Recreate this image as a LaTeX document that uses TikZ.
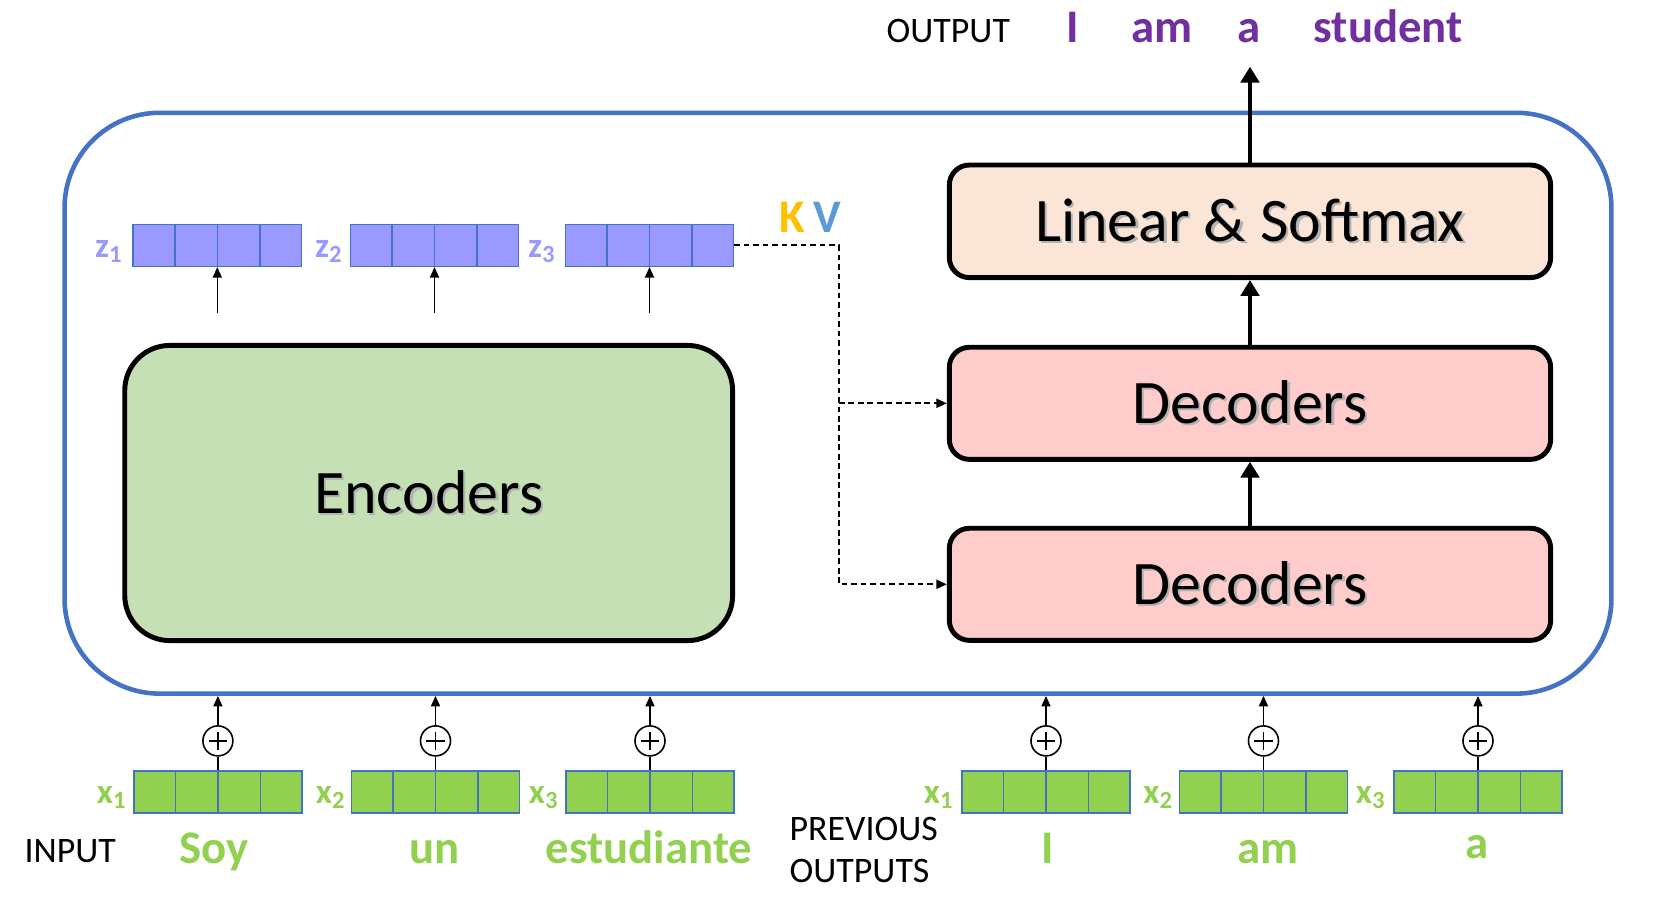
\documentclass[tikz,border=0pt]{standalone}
\usepackage{fontspec}
\setmainfont{Carlito}
\usetikzlibrary{arrows.meta,calc}
\definecolor{vblue}{HTML}{4472C4}
\definecolor{lav}{HTML}{9999FF}
\definecolor{lgreen}{HTML}{92D050}
\definecolor{encgreen}{HTML}{C5E0B4}
\definecolor{linfill}{HTML}{FBE5D6}
\definecolor{decfill}{HTML}{FFCCCC}
\definecolor{purp}{HTML}{7030A0}
\definecolor{kgold}{HTML}{FFC000}
\definecolor{vlblue}{HTML}{5B9BD5}
\newcommand\fsBig{\fontsize{17.6}{20}\selectfont}
\newcommand\fsWord{\fontsize{13.3}{15}\selectfont\bfseries}
\newcommand\fsCap{\fontsize{10.2}{12}\selectfont}
\newcommand\fsLab{\fontsize{10}{12}\selectfont\bfseries}
\newcommand\shtext[1]{\makebox[0pt][l]{\raisebox{-0.7pt}{\hspace{0.7pt}\textcolor{black!30}{#1}}}#1}
\tikzset{
  bigbox/.style={draw=black, line width=1.4pt, minimum width=6.01cm, minimum height=1.12cm, inner sep=0pt, rounded corners=0.2cm},
  vec/.style={draw=vblue, line width=0.45pt, minimum width=1.68cm, minimum height=0.42cm, inner sep=0pt},
  vecdiv/.style={draw=vblue, line width=0.45pt},
  zvec/.style={vec, fill=lav},
  xvec/.style={vec, fill=lgreen},
  zlab/.style={text=lav, font=\fsLab, inner sep=0pt, anchor=base east},
  xlab/.style={text=lgreen, font=\fsLab, inner sep=0pt, anchor=base east},
  word/.style={font=\fsWord, inner sep=0pt},
  capt/.style={font=\fsCap, inner sep=0pt, anchor=base west},
  thinarrow/.style={line width=0.45pt, -{Triangle[length=3pt,width=2.6pt]}},
  thickarrow/.style={line width=1.4pt, -{Triangle[length=4.5pt,width=5.2pt]}},
  dashline/.style={line width=0.5pt, dash pattern=on 1.6pt off 1.1pt},
  dasharrow/.style={dashline, -{Triangle[length=3pt,width=2.6pt]}},
  plusnode/.style={circle, draw, line width=0.45pt, minimum size=0.3cm, inner sep=0pt, fill=white,
    path picture={
      \draw[line width=0.45pt] ([xshift=-0.09cm]path picture bounding box.center) -- ([xshift=0.09cm]path picture bounding box.center);
      \draw[line width=0.45pt] ([yshift=-0.09cm]path picture bounding box.center) -- ([yshift=0.09cm]path picture bounding box.center);
    }},
}
\begin{document}
\begin{tikzpicture}[x=0.01cm,y=-0.01cm]
\useasboundingbox (0,0) rectangle (1668,899);
% outer container
\node[draw=vblue, line width=1.3pt, rounded corners=0.95cm, minimum width=15.46cm, minimum height=5.805cm, inner sep=0pt] (outer) at (838,403.2) {};
% encoder
\node[bigbox, fill=encgreen, rounded corners=0.45cm, minimum width=6.075cm, minimum height=2.95cm] (enc) at (428.7,493) {\fsBig\shtext{Encoders}};
% decoder side
\node[bigbox, fill=linfill, minimum height=1.125cm] (lin) at (1250,221.3) {\fsBig\shtext{Linear \& Softmax}};
\node[bigbox, fill=decfill] (dec1) at (1250,403.3) {\fsBig\shtext{Decoders}};
\node[bigbox, fill=decfill] (dec2) at (1250,584.3) {\fsBig\shtext{Decoders}};
% z vectors
\node[zvec] (z1) at (217.3,245.3) {};
\node[zvec] (z2) at (434.5,245.3) {};
\node[zvec] (z3) at (649.5,245.3) {};
\node[zlab] (lz1) at (124,257) {z\textsubscript{1}};
\node[zlab] (lz2) at (344,257) {z\textsubscript{2}};
\node[zlab] (lz3) at (557,257) {z\textsubscript{3}};
% x vectors
\node[xvec] (a1) at (217.9,792) {};
\node[xvec] (a2) at (435.5,792) {};
\node[xvec] (a3) at (650,792) {};
\node[xvec] (b1) at (1046,792) {};
\node[xvec] (b2) at (1263.5,792) {};
\node[xvec] (b3) at (1478,792) {};
\node[xlab] (la1) at (128,803) {x\textsubscript{1}};
\node[xlab] (la2) at (347,803) {x\textsubscript{2}};
\node[xlab] (la3) at (560,803) {x\textsubscript{3}};
\node[xlab] (lb1) at (955,803) {x\textsubscript{1}};
\node[xlab] (lb2) at (1174.5,803) {x\textsubscript{2}};
\node[xlab] (lb3) at (1387,803) {x\textsubscript{3}};
\foreach \n in {z1,z2,z3,a1,a2,a3,b1,b2,b3}
  \foreach \i in {1,2,3}
    \draw[vecdiv] ($(\n.north west)!\i/4!(\n.north east)$) -- ($(\n.south west)!\i/4!(\n.south east)$);
% encoder to z arrows
\foreach \n in {z1,z2,z3} {
  \coordinate (s\n) at ($(\n.south)+(0,46)$);
  \draw[thinarrow] (s\n) -- (\n.south);
}
% plus circles and input arrows
\foreach \n in {a1,a2,a3,b1,b2,b3} {
  \node[plusnode] (p\n) at ($(\n.north)+(0,-29.3)$) {};
  \draw[line width=0.45pt] (\n.north) -- (p\n.south);
  \draw[thinarrow] (p\n.north) -- (p\n.north |- outer.south);
}
% K V
\node[word, text=kgold, anchor=base west] (kk) at (779,232) {K};
\node[word, text=vlblue, anchor=base west] (vv) at (813,232) {V};
% dashed connections
\coordinate (kv) at (839,245.3);
\coordinate (kvb) at (kv |- dec1.west);
\draw[dasharrow] (z3.east) -- (kv) |- (dec2.west);
\draw[dasharrow] (kvb) -- (dec1.west);
% thick arrows
\draw[thickarrow] (dec2.north) -- (dec1.south);
\draw[thickarrow] (dec1.north) -- (lin.south);
\coordinate (outtip) at (1250,66.7);
\draw[thickarrow] (lin.north) -- (outtip);
% output text
\node[capt] (outlab) at (886,42.7) {OUTPUT};
\node[word, text=purp, anchor=base west] (o1) at (1066,42.7) {I};
\node[word, text=purp, anchor=base west] (o2) at (1131,42.7) {am};
\node[word, text=purp, anchor=base west] (o3) at (1237,42.7) {a};
\node[word, text=purp, anchor=base west] (o4) at (1313,42.7) {student};
% input text
\node[capt] (inlab) at (24,862) {INPUT};
\node[word, text=lgreen, anchor=base] (w1) at (214,863) {Soy};
\node[word, text=lgreen, anchor=base] (w2) at (434.6,863) {un};
\node[word, text=lgreen, anchor=base] (w3) at (649,863) {estudiante};
\node[capt] (prev1) at (789,840) {PREVIOUS};
\node[capt] (prev2) at (789,882.7) {OUTPUTS};
\node[word, text=lgreen, anchor=base] (v1) at (1048,863) {I};
\node[word, text=lgreen, anchor=base] (v2) at (1268,863) {am};
\node[word, text=lgreen, anchor=base] (v3) at (1477,858) {a};
\end{tikzpicture}
\end{document}
